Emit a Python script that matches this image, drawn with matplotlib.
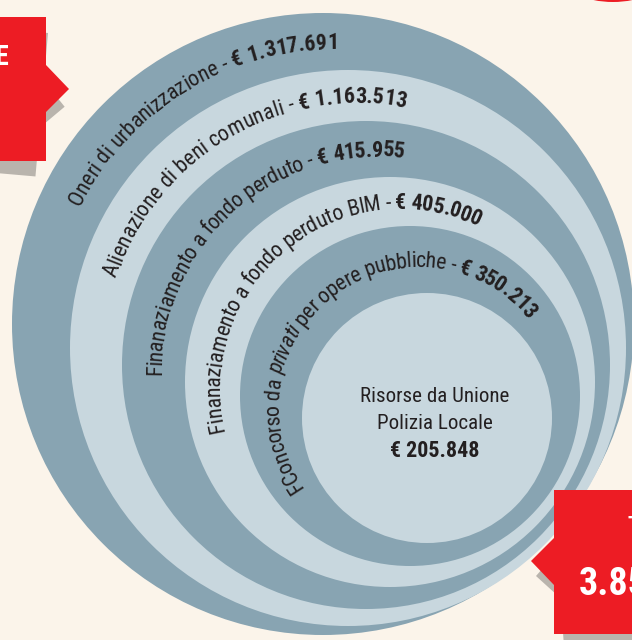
import numpy as np
import matplotlib
matplotlib.use("Agg")
import matplotlib.pyplot as plt
from matplotlib import font_manager as fm
from matplotlib.patches import Circle, Polygon
from matplotlib.transforms import Affine2D

# ---- data ----
ring_labels = [
    "Oneri di urbanizzazione",
    "Alienazione di beni comunali",
    "Finanaziamento a fondo perduto",
    "Finanaziamento a fondo perduto BIM",
    "FConcorso da privati per opere pubbliche",
]
ring_amounts = [1317691, 1163513, 415955, 405000, 350213]
core_lines = ["Risorse da Unione", "Polizia Locale"]
core_amount = 205848
total_title = "TOTALE"
left_box_text = "E"


def euro(v):
    return "€ " + f"{v:,}".replace(",", ".")


# ---- layout, in pixels (y grows downwards) ----
W, H, DPI = 632, 640, 100
circles = [(323, 324, 311), (348, 348, 278), (366, 365, 244),
           (390, 382, 205), (410, 396, 170), (427, 418, 125)]
# start / end angle of each ring label (degrees, counter-clockwise from 3 o'clock)
ring_angles = [(153.2, 89.5), (162, 79), (180.5, 83), (193.4, 64.2), (215, 38.6)]

BG = "#FBF4EA"
DARK = "#88A4B2"
LIGHT = "#C8D7DE"
RED = "#ED1C24"
SHADOW = "#B9B4AD"
INK = "#231F20"

# pick a narrow face if one is installed
FAMILY, STRETCH = "DejaVu Sans", "normal"
for fam, stretch, tag in [("Roboto Condensed", "normal", "Condensed"),
                          ("Liberation Sans Narrow", "normal", "Narrow"),
                          ("DejaVu Sans", "condensed", "Condensed")]:
    try:
        path = fm.findfont(fm.FontProperties(family=fam, stretch=stretch), fallback_to_default=False)
    except Exception:
        continue
    if tag.lower() in path.lower():
        FAMILY, STRETCH = fam, stretch
        break


def font(px, weight="normal", style="normal"):
    return fm.FontProperties(family=[FAMILY, "DejaVu Sans"], stretch=STRETCH,
                             weight=weight, style=style, size=px * 72 / DPI)


fig = plt.figure(figsize=(W / DPI, H / DPI), dpi=DPI, facecolor=BG)
ax = fig.add_axes([0, 0, 1, 1])
ax.set_xlim(0, W)
ax.set_ylim(H, 0)
ax.axis("off")
renderer = fig.canvas.get_renderer()


def advance(ch, fp):
    w1 = renderer.get_text_width_height_descent("x" + ch + "x", fp, ismath=False)[0]
    w0 = renderer.get_text_width_height_descent("xx", fp, ismath=False)[0]
    return w1 - w0


def curved_label(parts, cx, cy, radius, a0, a1, px):
    arc = radius * np.radians(a0 - a1)
    for _ in range(3):
        chars = [(ch, font(px, wt, st)) for text, wt, st in parts for ch in text]
        advs = [advance(ch, fp) for ch, fp in chars]
        total = sum(advs)
        track = (arc - total) / (len(chars) - 1)
        if track > -0.6:
            break
        px *= arc / total
    u = 0.0
    for (ch, fp), w in zip(chars, advs):
        ang = np.radians(a0) - (u + w / 2) / radius
        if ch != " ":
            ax.text(cx + radius * np.cos(ang), cy - radius * np.sin(ang), ch,
                    fontproperties=fp, color=INK, rotation=np.degrees(ang) - 90,
                    rotation_mode="anchor", ha="center", va="baseline", zorder=20)
        u += w + track


# nested circles
for i, (cx, cy, r) in enumerate(circles):
    ax.add_patch(Circle((cx, cy), r, facecolor=DARK if i % 2 == 0 else LIGHT,
                        edgecolor="none", zorder=2 + i))

# red blob peeking in at the top right
ax.add_patch(Circle((613, -98), 100, facecolor=RED, edgecolor="none", zorder=1))

# callout boxes with their grey shadows
left_box = np.array([(-10, 17), (46, 17), (46, 65), (69, 89), (46, 112), (46, 161), (-10, 161)])
right_box = np.array([(554, 490), (650, 490), (650, 634), (554, 634), (554, 585), (531, 561), (554, 538)])
left_sh = Affine2D().rotate_deg_around(46, 17, 5).translate(2, 16)
right_sh = Affine2D().rotate_deg_around(531, 561, -4).translate(5, 15)
for shape, sh in [(left_box, left_sh), (right_box, right_sh)]:
    ax.add_patch(Polygon(sh.transform(shape), closed=True, facecolor=SHADOW, edgecolor="none", zorder=10))
    ax.add_patch(Polygon(shape, closed=True, facecolor=RED, edgecolor="none", zorder=11))

ax.text(8.5, 65, left_box_text, fontproperties=font(28, "bold"), color="white",
        ha="right", va="baseline", zorder=12)
ax.text(627, 531, total_title, fontproperties=font(20, "bold"), color="white",
        ha="left", va="baseline", zorder=12)
ax.text(579, 595, f"{sum(ring_amounts) + core_amount:,}".replace(",", "."),
        fontproperties=font(38, "bold"), color="white", ha="left", va="baseline", zorder=12)

# labels bent along each ring
for k, (label, amount) in enumerate(zip(ring_labels, ring_amounts)):
    (ox, oy, orad), (ix, iy, irad) = circles[k], circles[k + 1]
    cx, cy, rmid = (ox + ix) / 2, (oy + iy) / 2, (orad + irad) / 2
    a0, a1 = ring_angles[k]
    if "privati" in label:
        head, tail = label.split("privati")
        parts = [(head, "normal", "normal"), ("privati", "normal", "italic"),
                 (tail + " - ", "normal", "normal")]
    else:
        parts = [(label + " - ", "normal", "normal")]
    parts.append((euro(amount), "bold", "normal"))
    curved_label(parts, cx, cy, rmid - 7.5, a0, a1, 22)

# centre of the inner circle
for line, yb in zip(core_lines, [402, 429]):
    ax.text(435, yb, line, fontproperties=font(21), color=INK, ha="center", va="baseline", zorder=20)
ax.text(435, 457, euro(core_amount), fontproperties=font(22, "bold"), color=INK,
        ha="center", va="baseline", zorder=20)

fig.savefig("out.png", dpi=DPI, facecolor=BG)
